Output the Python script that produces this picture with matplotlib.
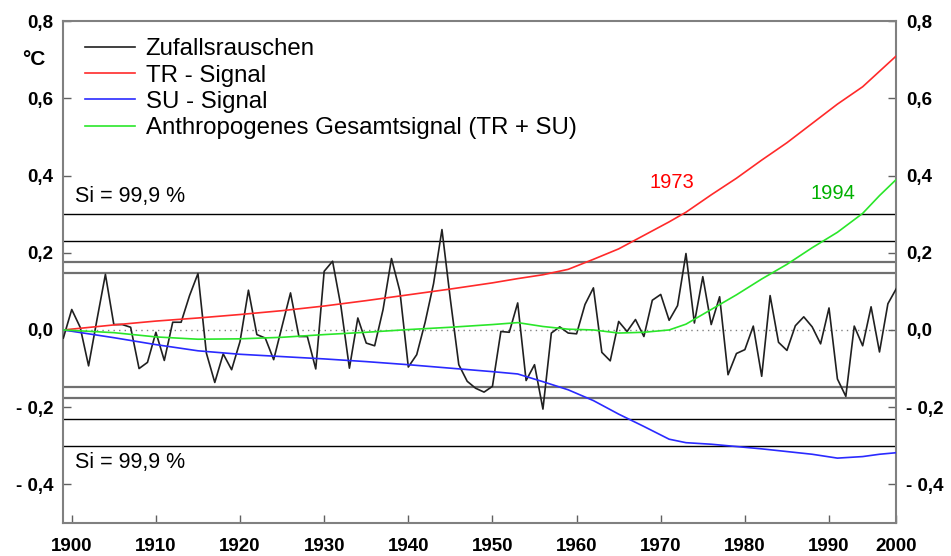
import numpy as np
from matplotlib import pyplot as plt

plt.rcParams['font.family'] = ['Liberation Sans', 'DejaVu Sans']

# Zufallsrauschen, annual values 1899-1998
noise_years = list(range(1899, 1999))
noise = [-0.021, 0.053, 0.007, -0.093, 0.027, 0.144, 0.014, 0.014, 0.007, -0.100,
         -0.084, -0.006, -0.079, 0.020, 0.020, 0.089, 0.146, -0.060, -0.136, -0.062,
         -0.103, -0.030, 0.103, -0.012, -0.021, -0.077, 0.010, 0.096, -0.017, -0.017,
         -0.101, 0.152, 0.178, 0.060, -0.099, 0.031, -0.034, -0.041, 0.053, 0.185,
         0.100, -0.096, -0.064, 0.020, 0.120, 0.260, 0.079, -0.090, -0.133, -0.151,
         -0.161, -0.146, -0.004, -0.006, 0.070, -0.131, -0.090, -0.205, -0.008, 0.008,
         -0.008, -0.010, 0.066, 0.109, -0.058, -0.080, 0.022, -0.004, 0.027, -0.017,
         0.077, 0.092, 0.025, 0.063, 0.198, 0.018, 0.138, 0.014, 0.086, -0.116,
         -0.061, -0.051, 0.010, -0.120, 0.089, -0.032, -0.053, 0.011, 0.034, 0.008,
         -0.036, 0.057, -0.127, -0.172, 0.010, -0.041, 0.060, -0.057, 0.068, 0.107]

# signals
sig_years = [1899, 1905, 1910, 1915, 1920, 1925, 1930, 1935, 1940, 1945, 1950, 1953,
             1956, 1959, 1962, 1965, 1968, 1971, 1973, 1976, 1979, 1982, 1985, 1988,
             1991, 1994, 1996, 1998]
tr = [0.0, 0.013, 0.023, 0.031, 0.040, 0.050, 0.062, 0.076, 0.091, 0.106, 0.122, 0.133,
      0.143, 0.157, 0.183, 0.210, 0.245, 0.280, 0.305, 0.350, 0.393, 0.440, 0.485, 0.535,
      0.585, 0.630, 0.670, 0.710]
su = [0.0, -0.020, -0.038, -0.054, -0.063, -0.069, -0.075, -0.082, -0.090, -0.099, -0.108, -0.114,
      -0.134, -0.155, -0.183, -0.218, -0.250, -0.283, -0.292, -0.296, -0.302, -0.308, -0.315, -0.322,
      -0.332, -0.328, -0.322, -0.318]
total = [0.0, -0.007, -0.018, -0.024, -0.023, -0.019, -0.012, -0.006, 0.001, 0.007, 0.014, 0.019,
         0.009, 0.002, 0.0, -0.008, -0.006, 0.0, 0.015, 0.053, 0.091, 0.132, 0.170, 0.213,
         0.253, 0.302, 0.348, 0.390]

# significance levels
sig_levels = [0.30, 0.231, 0.176, 0.148]

yticks = [-0.4, -0.2, 0.0, 0.2, 0.4, 0.6, 0.8]
ylabels = ['- 0,4', '- 0,2', '0,0', '0,2', '0,4', '0,6', '0,8']
xticks = [1900, 1910, 1920, 1930, 1940, 1950, 1960, 1970, 1980, 1990, 1998]
xlabels = ['1900', '1910', '1920', '1930', '1940', '1950', '1960', '1970', '1980', '1990', '2000']

fig = plt.figure(figsize=(9.51, 5.56), dpi=100)
ax = fig.add_axes([0.0666, 0.0594, 0.8759, 0.9026])

# threshold lines
for lev in sig_levels:
    if lev >= 0.2:
        c, lw = 'black', 1.0
    else:
        c, lw = '#707070', 1.6
    ax.axhline(lev, color=c, lw=lw, zorder=1)
    ax.axhline(-lev, color=c, lw=lw, zorder=1)
ax.axhline(0.0, color='#808080', lw=1.0, ls=(0, (1, 3)), zorder=1)

ax.plot(noise_years, noise, color='#202020', lw=1.2, label='Zufallsrauschen', zorder=3)
ax.plot(sig_years, tr, color='#ff2a2a', lw=1.2, label='TR - Signal', zorder=4)
ax.plot(sig_years, su, color='#2a2aff', lw=1.2, label='SU - Signal', zorder=4)
ax.plot(sig_years, total, color='#2ae62a', lw=1.2, label='Anthropogenes Gesamtsignal (TR + SU)', zorder=4)

ax.set_xlim(1899, 1998)
ax.set_ylim(-0.5, 0.8)

ax.set_xticks(xticks)
ax.set_xticklabels(xlabels)
ax.set_yticks(yticks)
ax.set_yticklabels(ylabels)
ax.tick_params(axis='both', direction='in', length=6, width=1, color='#606060',
               labelsize=13.5)
ax.tick_params(axis='y', right=True, labelright=True, pad=7)
ax.tick_params(axis='x', pad=11)
for lab in ax.get_xticklabels() + ax.get_yticklabels():
    lab.set_fontweight('bold')
for t in ax.yaxis.get_major_ticks():
    t.label2.set_fontweight('bold')

for s in ax.spines.values():
    s.set_color('#808080')
    s.set_linewidth(1.5)

# annotations
fig.text(0.023, 0.893, '°C', fontsize=15, fontweight='bold', va='center')
ax.text(1900.4, 0.345, 'Si = 99,9 %', fontsize=15.5, va='center')
ax.text(1900.4, -0.343, 'Si = 99,9 %', fontsize=15.5, va='center')
ax.text(1968.7, 0.382, '1973', fontsize=14.5, color='#ff0000', va='center')
ax.text(1987.8, 0.354, '1994', fontsize=14.5, color='#00b000', va='center')

ax.legend(loc='upper left', bbox_to_anchor=(0.026, 0.966), frameon=False,
          fontsize=17.3, handlelength=2.1, handletextpad=0.42, labelspacing=0.18,
          borderpad=0, borderaxespad=0)

plt.savefig('out.png', dpi=100)
